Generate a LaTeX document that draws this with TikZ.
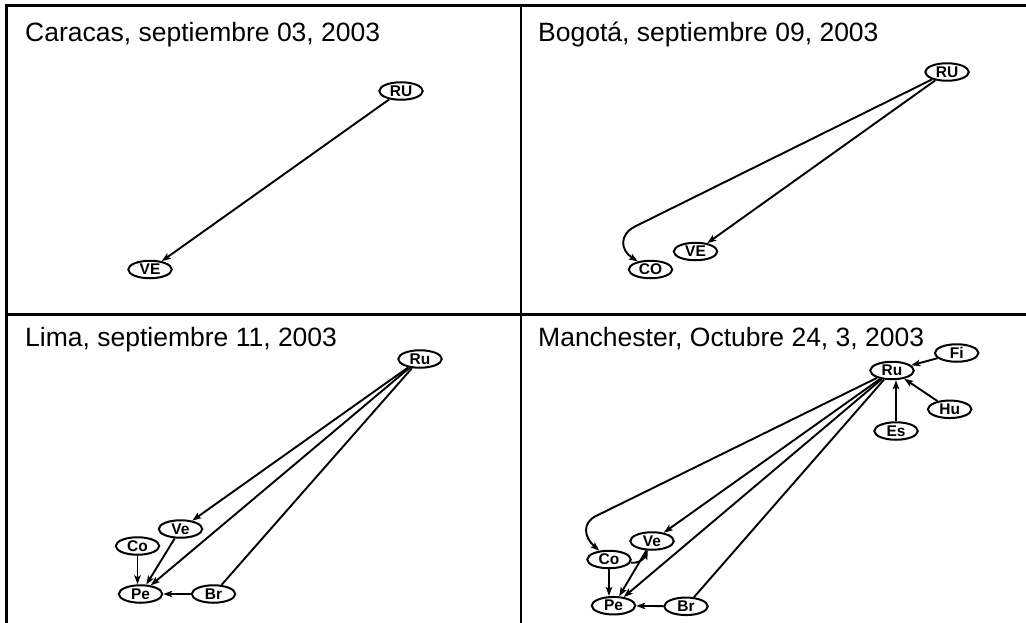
\documentclass[tikz,border=0pt]{standalone}
\usepackage{fontspec}
\setmainfont{Liberation Sans}
\usetikzlibrary{shapes.geometric,arrows.meta}
\begin{document}
\begin{tikzpicture}[x=1pt,y=-1pt,
  st/.style={ellipse,draw,line width=2pt,inner sep=0pt,minimum width=43.5pt,minimum height=17.5pt,font=\fontsize{15.5}{16}\selectfont\bfseries},
  ar/.style={line width=1.9pt,-{Stealth[length=9pt,width=6.5pt,inset=2pt]}},
  ln/.style={line width=1.9pt},
  ttl/.style={anchor=base west,inner sep=0pt,font=\fontsize{26.5}{30}\selectfont},
  frame/.style={line width=2.4pt}]
\useasboundingbox (0,0) rectangle (1026,622);
% frame
\draw[frame] (6.5,630) -- (6.5,5.5) -- (1030,5.5);
\draw[frame] (521,5.5) -- (521,630);
\draw[frame] (6.5,314.5) -- (1030,314.5);
% titles
\node[ttl] (t1) at (25,41) {Caracas, septiembre 03, 2003};
\node[ttl] (t2) at (538,41) {Bogotá, septiembre 09, 2003};
\node[ttl] (t3) at (25,346.5) {Lima, septiembre 11, 2003};
\node[ttl] (t4) at (538,346.5) {Manchester, Octubre 24, 3, 2003};
% panel 1
\node[st] (aRU) at (401,91) {RU};
\node[st] (aVE) at (150,269.5) {VE};
\draw[ar] (aRU) -- (aVE);
% panel 2
\node[st] (bRU) at (947,72) {RU};
\node[st] (bVE) at (695.5,251.5) {VE};
\node[st] (bCO) at (650.5,269.5) {CO};
\coordinate (bk) at (636,226);
\draw[ar] (bRU) -- (bVE);
\draw[ar] (bRU) -- (bk) .. controls (619,234) and (620,250) .. (bCO);
% panel 3
\node[st] (cRu) at (420,359) {Ru};
\node[st] (cVe) at (180.5,529) {Ve};
\node[st] (cCo) at (137.5,546) {Co};
\node[st] (cPe) at (140.5,594) {Pe};
\node[st] (cBr) at (213.5,594) {Br};
\draw[ar] (cRu) -- (cVe);
\draw[ar] (cRu) -- (cPe);
\draw[ln] (cRu) -- (cBr);
\draw[ar] (cVe) -- (cPe);
\draw[ar] (cCo) -- (cCo |- cPe.north);
\draw[ar] (cBr) -- (cPe);
% panel 4
\node[st] (dRu) at (892,370.5) {Ru};
\node[st] (dFi) at (956.7,353) {Fi};
\node[st] (dHu) at (949.7,409.3) {Hu};
\node[st] (dEs) at (896,431) {Es};
\node[st] (dVe) at (652,541) {Ve};
\node[st] (dCo) at (609,559.5) {Co};
\node[st] (dPe) at (613.5,605.7) {Pe};
\node[st] (dBr) at (686,606.3) {Br};
\coordinate (dk) at (596,516);
\draw[ar] (dFi) -- (dRu);
\draw[ar] (dHu) -- (dRu);
\draw[ar] (dEs) -- (dEs |- dRu.south);
\draw[ar] (dRu) -- (dk) .. controls (582,523) and (584,537) .. (dCo);
\draw[ar] (dRu) -- (dVe);
\draw[ar] (dRu) -- (dPe);
\draw[ln] (dRu) -- (dBr);
\draw[ar] (dCo) .. controls (640,564) and (645,557) .. (dVe);
\draw[ar] (dVe) -- (dPe);
\draw[ar] (dCo) -- (dCo |- dPe.north);
\draw[ar] (dBr) -- (dPe);
\end{tikzpicture}
\end{document}
